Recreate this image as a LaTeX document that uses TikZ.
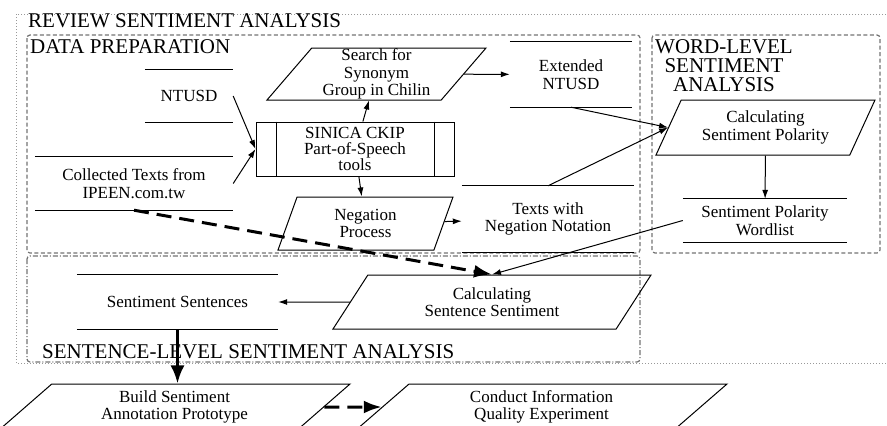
\documentclass[tikz,border=0pt]{standalone}
\usepackage{fontspec}
\setmainfont{Liberation Serif}
\usetikzlibrary{shapes.geometric, arrows.meta, positioning}

\begin{document}
\begin{tikzpicture}[x=1pt, y=-1pt,
	>={Latex[length=9pt,width=6pt]},
	every node/.style={font=\fontsize{17}{17.5}\selectfont, align=center},
	store/.style={inner sep=0pt},
	proc/.style={trapezium, draw, trapezium stretches body, inner sep=0pt, line width=1pt},
	head/.style={font=\fontsize{21}{19}\selectfont, inner sep=0pt},
	area/.style={draw=black!55, line width=1.2pt, rounded corners=3pt, dash pattern=on 4pt off 2.5pt},
	link/.style={->, line width=1pt},
	bigdash/.style={->, line width=3pt, dash pattern=on 15pt off 8pt, >={Latex[length=18pt,width=13pt]}}]

	\useasboundingbox (0,0) rectangle (887,426);
	\clip (0,0) rectangle (887,426);

	% areas
	\draw[draw=black!40, line width=1pt, dash pattern=on 1pt off 2pt] (16,14) rectangle (900,363);
	\draw[area] (27,35) rectangle (640,253);
	\draw[area] (652,35) rectangle (880,253);
	\draw[area, dash pattern=on 5pt off 2pt on 1pt off 2pt] (27,256) rectangle (640,362);

	\node[head, anchor=base west] (review) at (28,27) {REVIEW SENTIMENT ANALYSIS};
	\node[head, anchor=base west] (dataprep) at (30,53) {DATA PREPARATION};
	\node[head, anchor=north] (wordlevel) at (724,39) {WORD-LEVEL\\SENTIMENT\\ANALYSIS};
	\node[head, anchor=base west] (sentlevel) at (42,358) {SENTENCE-LEVEL SENTIMENT ANALYSIS};

	% data
	\node[store, minimum width=88, minimum height=52] (ntusd) at (189,96) {NTUSD};
	\node[store, minimum width=198, minimum height=53] (collected) at (134,183.5) {Collected Texts from\\IPEEN.com.tw};
	\node[store, minimum width=122, minimum height=65] (extended) at (571,74.5) {Extended\\NTUSD};
	\node[store, minimum width=172, minimum height=66] (texts) at (548,219) {Texts with\\Negation Notation};
	\node[store, minimum width=164, minimum height=43] (wordlist) at (765,220.5) {Sentiment Polarity\\Wordlist};
	\node[store, minimum width=201, minimum height=54] (sentences) at (177.5,302) {Sentiment Sentences};

	\foreach \n in {ntusd, collected, extended, texts, wordlist, sentences}
		\draw[line width=1pt] (\n.north west) -- (\n.north east) (\n.south west) -- (\n.south east);

	% processes
	\node[draw, line width=1pt, minimum width=198, minimum height=54, inner sep=0pt,
		  font=\fontsize{17}{16}\selectfont] (ckip) at (355,149) {SINICA CKIP\\Part-of-Speech\\tools};
	\draw[line width=1pt] ([xshift=21pt]ckip.north west) -- ([xshift=21pt]ckip.south west)
		([xshift=-20pt]ckip.north east) -- ([xshift=-20pt]ckip.south east);

	\node[proc, trapezium left angle=48.5, trapezium right angle=131.5,
		  minimum width=219, minimum height=52] (search) at (376.5,74) {Search for\\Synonym\\Group in Chilin};
	\node[proc, trapezium left angle=56.6, trapezium right angle=123.4,
		  minimum width=175, minimum height=53] (negation) at (365.5,223.5) {Negation\\Process};
	\node[proc, trapezium left angle=52.6, trapezium right angle=127.4,
		  minimum width=219, minimum height=55] (polarity) at (765.5,127.5) {Calculating\\Sentiment Polarity};
	\node[proc, trapezium left angle=40.2, trapezium right angle=139.8,
		  minimum width=318, minimum height=54] (sentcalc) at (492,302) {Calculating\\Sentence Sentiment};
	\node[proc, trapezium left angle=32, trapezium right angle=148,
		  minimum width=351, minimum height=46] (build) at (174.5,407) {Build Sentiment\\Annotation Prototype};
	\node[proc, trapezium left angle=32, trapezium right angle=148,
		  minimum width=371, minimum height=46] (conduct) at (541.5,407) {Conduct Information\\Quality Experiment};

	% connectors
	\draw[link] (ntusd.east) -- (ckip.west);
	\draw[link] (collected.east) -- (ckip.west);
	\draw[link] (ckip) -- (search);
	\draw[link] (ckip) -- (negation);
	\draw[link] (search) -- (extended);
	\draw[link] (negation) -- (texts);
	\draw[link] (extended.south) -- (polarity.west);
	\draw[link] (texts.north) -- (polarity.west);
	\draw[link] (polarity) -- (wordlist);
	\draw[link] (wordlist.west) -- (sentcalc.north);
	\draw[bigdash] (collected.south) -- (sentcalc.north);
	\draw[link] (sentcalc) -- (sentences);
	\draw[->, line width=3pt, >={Latex[length=18pt,width=14pt]}] (sentences.south) -- (sentences.south |- build.north);
	\draw[bigdash] (build) -- (conduct);
\end{tikzpicture}
\end{document}
